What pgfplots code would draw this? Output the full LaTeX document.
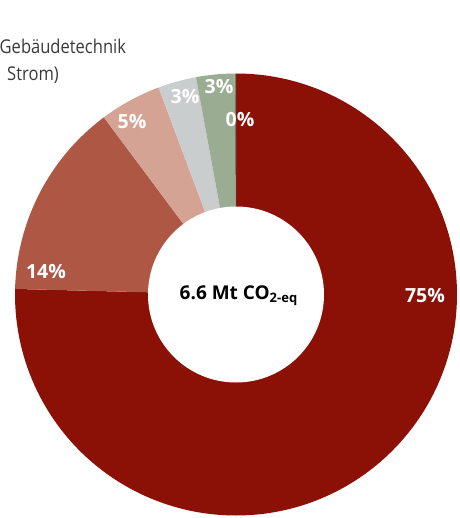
\documentclass[border=0pt]{standalone}
\usepackage{fontspec}
\setmainfont{Open Sans}
\newfontfamily\condfont[FakeStretch=0.87]{Open Sans}
\usepackage{pgfplots}
\pgfplotsset{compat=1.18}
\usepackage{pgfplotstable}

\definecolor{sA}{HTML}{8B1006}
\definecolor{sB}{HTML}{AE5744}
\definecolor{sC}{HTML}{D5A393}
\definecolor{sD}{HTML}{C9CDCD}
\definecolor{sE}{HTML}{9AAD93}
\definecolor{sF}{HTML}{6E7F68}
\definecolor{txt}{HTML}{3A3A3A}

% share in percent, colour, label position (px), label
\pgfplotstableread{
share col lx ly lab
75.4 sA 425 222 75
14.4 sB 46 246 14
4.5 sC 132 396 5
2.8 sD 185 421 3
2.8 sE 219 431 3
0.1 sF 240 398 0
}\donut

\begin{document}
\begin{tikzpicture}
\begin{axis}[
  at={(0,0)}, anchor=south west,
  x=1bp, y=1bp,
  xmin=0, xmax=460, ymin=0, ymax=518,
  hide axis, clip=true,
]
\pgfplotstablegetrowsof{\donut}
\pgfmathtruncatemacro\nrows{\pgfplotsretval-1}
\def\cum{0}
\pgfplotsforeachungrouped \i in {0,...,\nrows}{%
  \pgfplotstablegetelem{\i}{share}\of\donut \let\sh\pgfplotsretval
  \pgfplotstablegetelem{\i}{col}\of\donut \let\cl\pgfplotsretval
  \pgfmathsetmacro\aA{90-3.6*\cum}
  \pgfmathsetmacro\cum{\cum+\sh}
  \pgfmathsetmacro\aB{90-3.6*\cum}
  \edef\tmp{\noexpand\fill[\cl] (axis cs:236,223.5) -- ++(\aA:221bp)
    arc[start angle=\aA, end angle=\aB, radius=221bp] -- cycle;}
  \tmp
}
\fill[white] (axis cs:236,223.5) circle[radius=88bp];
\pgfplotsforeachungrouped \i in {0,...,\nrows}{%
  \pgfplotstablegetelem{\i}{lx}\of\donut \let\lx\pgfplotsretval
  \pgfplotstablegetelem{\i}{ly}\of\donut \let\ly\pgfplotsretval
  \pgfplotstablegetelem{\i}{lab}\of\donut \let\lb\pgfplotsretval
  \edef\tmp{\noexpand\node[white, font=\noexpand\fontsize{19.5bp}{22bp}\noexpand\selectfont\noexpand\bfseries]
    at (axis cs:\lx,\ly) {\lb\noexpand\%};}
  \tmp
}
\node[font=\fontsize{19bp}{22bp}\selectfont\bfseries, anchor=base] at (axis cs:238.5,219)
  {6.6 Mt CO\raisebox{-3bp}{\fontsize{13bp}{14bp}\selectfont 2-eq}};
\node[txt, font=\fontsize{19bp}{22bp}\condfont, anchor=base west, inner sep=0pt] at (axis cs:-0.5,464.5) {Gebäudetechnik};
\node[txt, font=\fontsize{19bp}{22bp}\condfont, anchor=base west, inner sep=0pt] at (axis cs:7,437.5) {Strom)};
\end{axis}
\pgfresetboundingbox
\path (0,0) rectangle (460bp,518bp);
\end{tikzpicture}
\end{document}
